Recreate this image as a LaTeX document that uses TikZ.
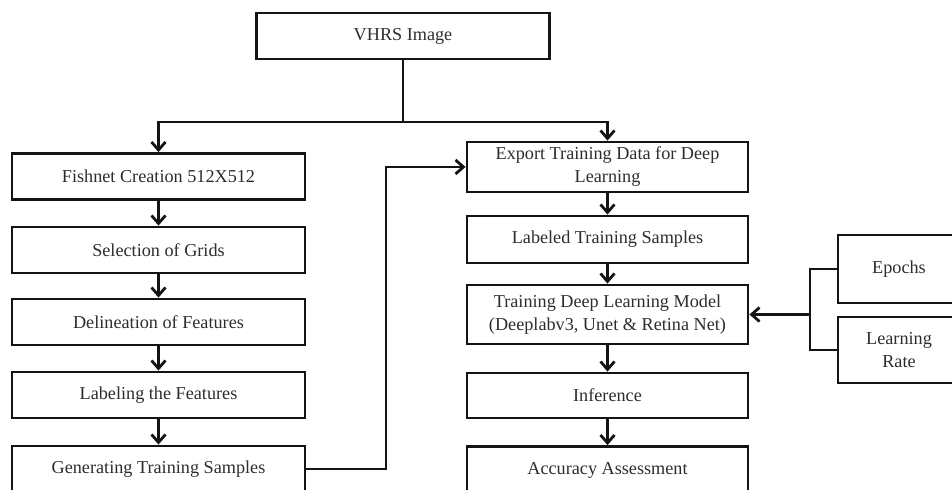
\documentclass[tikz,border=0pt]{standalone}
\usepackage{xcolor}
\usepackage{tikz}
\usepackage{fontspec}
\setmainfont{Liberation Serif}
\usetikzlibrary{arrows.meta}
\definecolor{ink}{RGB}{20, 20, 20}
\definecolor{textgray}{RGB}{45, 45, 45}

\begin{document}
\begin{tikzpicture}[x=0.5pt, y=-0.5pt,
    box/.style={draw=ink, line width=1.4pt, align=center, inner sep=0pt,
        text=textgray, font=\fontsize{9.1}{11.5}\selectfont},
    leftbox/.style={box, minimum width=146.5pt, minimum height=23pt},
    rightbox/.style={box, minimum width=140.5pt, minimum height=23.5pt},
    sidebox/.style={box, minimum width=61pt, minimum height=34pt},
    link/.style={draw=ink, line width=1.4pt},
    arr/.style={link, -{Straight Barb[length=4pt, width=7pt]}}]
\path[use as bounding box, clip] (0,0) rectangle (952,490);

% Source image and the split below it
\node[leftbox] (vhrs) at (403,36) {VHRS Image};
\coordinate (split) at (403,122);

% Left branch
\foreach \n/\y/\txt in {fishnet/176.5/Fishnet Creation 512X512,
                        grids/250/Selection of Grids,
                        delin/322/Delineation of Features,
                        labeling/395/Labeling the Features,
                        gen/469/Generating Training Samples} {
    \node[leftbox] (\n) at (158.5,\y) {\txt};
}
\foreach \a/\b in {fishnet/grids, grids/delin, delin/labeling, labeling/gen} {
    \draw[arr] (\a) -- (\b);
}

% Right branch
\node[rightbox, minimum height=25pt] (export) at (607.5,167)
    {Export Training Data for Deep\\Learning};
\node[rightbox] (labeled) at (607.5,239.5) {Labeled Training Samples};
\node[rightbox, minimum height=29.5pt] (training) at (607.5,314.5)
    {Training Deep Learning Model\\(Deeplabv3, Unet \& Retina Net)};
\node[rightbox, minimum height=22.5pt] (inference) at (607.5,395.5) {Inference};
\node[rightbox] (accuracy) at (607.5,470) {Accuracy Assessment};
\foreach \a/\b in {export/labeled, labeled/training, training/inference, inference/accuracy} {
    \draw[arr] (\a) -- (\b);
}

% Parameters
\node[sidebox] (epochs) at (899,269) {Epochs};
\node[sidebox, minimum height=33pt] (rate) at (899,350) {Learning\\Rate};
\coordinate (hub) at (810,314.5);

% Connectors
\draw[link] (vhrs) -- (split);
\draw[arr] (split) -| (fishnet);
\draw[arr] (split) -| (export);
\coordinate (loop) at (386,0);
\draw[arr] (gen.east) -- (gen.east -| loop) |- (export.west);
\draw[link] (epochs.west) -| (hub) |- (rate.west);
\draw[arr] (hub) -- (training.east);
\end{tikzpicture}
\end{document}
